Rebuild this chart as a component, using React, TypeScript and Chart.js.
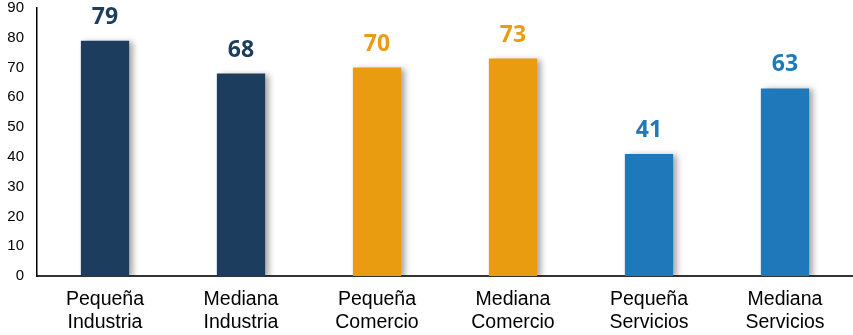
import React, { useEffect, useRef } from "react";
import { Chart, registerables } from "chart.js";

Chart.register(...registerables);

const categories: string[][] = [
  ["Pequeña", "Industria"],
  ["Mediana", "Industria"],
  ["Pequeña", "Comercio"],
  ["Mediana", "Comercio"],
  ["Pequeña", "Servicios"],
  ["Mediana", "Servicios"],
];
const values: number[] = [79, 68, 70, 73, 41, 63];
const barColors: string[] = ["#1c3d5e", "#1c3d5e", "#ea9c11", "#ea9c11", "#1f78b9", "#1f78b9"];
const yTicks = { min: 0, max: 90, step: 10 };

const shadowPlugin = {
  id: "barShadow",
  beforeDatasetsDraw(chart: any) {
    const ctx = chart.ctx;
    ctx.save();
    ctx.shadowColor = "rgba(0,0,0,0.35)";
    ctx.shadowBlur = 6;
    ctx.shadowOffsetX = 4;
    ctx.shadowOffsetY = 1;
  },
  afterDatasetsDraw(chart: any) {
    const ctx = chart.ctx;
    ctx.restore();
    const meta = chart.getDatasetMeta(0);
    ctx.save();
    ctx.font = "bold 23px 'Open Sans', sans-serif";
    ctx.textAlign = "center";
    ctx.textBaseline = "alphabetic";
    meta.data.forEach((bar: any, i: number) => {
      ctx.fillStyle = barColors[i];
      ctx.fillText(String(values[i]), bar.x, bar.y - 17);
    });
    ctx.restore();
  },
};

export default function App() {
  const ref = useRef<HTMLCanvasElement>(null);
  useEffect(() => {
    const chart = new Chart(ref.current!, {
      type: "bar",
      data: {
        labels: categories,
        datasets: [
          {
            data: values,
            backgroundColor: barColors,
            borderWidth: 0,
            barPercentage: 0.355,
            categoryPercentage: 1,
          },
        ],
      },
      options: {
        animation: false,
        responsive: false,
        maintainAspectRatio: false,
        layout: { padding: { left: 0, top: 0, right: 0, bottom: 0 } },
        plugins: { legend: { display: false }, tooltip: { enabled: false } },
        scales: {
          x: {
            grid: { display: false, drawTicks: false },
            border: { display: true, color: "#333", width: 2 },
            afterFit(scale: any) {
              scale.height = 59;
              scale.paddingLeft = 0;
              scale.paddingRight = 0;
            },
            ticks: {
              color: "#000",
              font: { family: "'Liberation Sans', Arial, sans-serif", size: 19.5, lineHeight: 1.18 },
              padding: 12,
              maxRotation: 0,
            },
          },
          y: {
            min: yTicks.min,
            max: yTicks.max,
            grid: { display: false, drawTicks: false },
            border: { display: true, color: "#000", width: 1.5 },
            afterFit(scale: any) {
              scale.width = 37;
              scale.paddingTop = 8;
              scale.paddingBottom = 0;
            },
            ticks: {
              stepSize: yTicks.step,
              color: "#000",
              font: { family: "'Liberation Sans', Arial, sans-serif", size: 15 },
              padding: 13,
            },
          },
        },
      },
      plugins: [shadowPlugin],
    });
    return () => chart.destroy();
  }, []);
  return (
    <canvas
      ref={ref}
      width={853}
      height={335}
      style={{ display: "block", position: "fixed", left: 0, top: 0 }}
    />
  );
}
